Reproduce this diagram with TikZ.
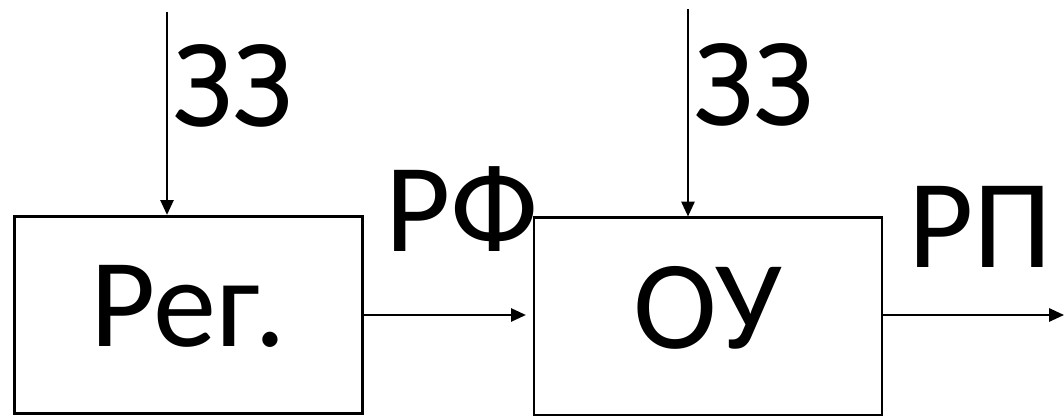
\documentclass[tikz,border=0pt]{standalone}
\usepackage{fontspec}
\setmainfont{Carlito}
\usetikzlibrary{arrows.meta}
\definecolor{darkline}{HTML}{000000}
\tikzset{
  block/.style={rectangle, draw=darkline, line width=1.9pt, inner sep=0pt, minimum width=8.7cm, minimum height=4.93cm, font=\fontsize{90}{100}\selectfont, text height=2.2cm, text depth=0.6cm},
  sig/.style={inner sep=0pt, anchor=base west, font=\fontsize{90}{100}\selectfont},
  flow/.style={-{Triangle[length=0.37cm, width=0.33cm]}, line width=1.4pt, draw=darkline}
}
\begin{document}
\begin{tikzpicture}

\useasboundingbox (0,0) rectangle (26.6,10.4);

\node[block] (reg) at (4.71,2.53) {Рег.};
\node[block] (ou) at (17.7,2.49) {ОУ};

\coordinate (in1) at (4.175,10.1);
\coordinate (in2) at (17.2,10.18);
\coordinate (out) at (26.6,2.525);

\node[sig] (zz1) at (4.3,7.225) {ЗЗ};
\node[sig] (zz2) at (17.33,7.25) {ЗЗ};
\node[sig] (rf) at (9.62,4.1) {РФ};
\node[sig] (rp) at (22.7,3.7) {РП};

\draw[flow] (in1) -- (in1 |- reg.north);
\draw[flow] (in2) -- (in2 |- ou.north);
\draw[flow, shorten >=0.17cm] (reg.east |- out) -- (ou.west |- out);
\draw[flow] (ou.east |- out) -- (out);

\end{tikzpicture}
\end{document}
